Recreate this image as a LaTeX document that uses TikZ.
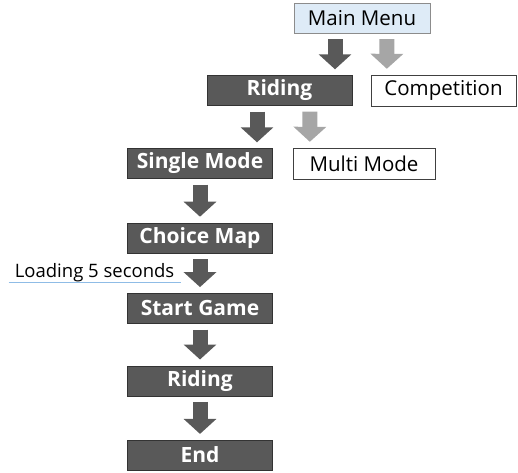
\documentclass[tikz,border=0pt]{standalone}
\usepackage{fontspec}
\setmainfont{Open Sans}
\usetikzlibrary{arrows.meta,positioning}
\definecolor{boxgray}{HTML}{595959}
\definecolor{arrowgray}{HTML}{A6A6A6}
\definecolor{menublue}{HTML}{DEEBF7}
\definecolor{lineblue}{HTML}{8FBCE6}

\tikzset{
  darkbox/.style={draw=black!80,fill=boxgray,text=white,font=\fontsize{21}{24}\selectfont\bfseries,
    minimum width=145pt,minimum height=30pt,inner sep=0pt},
  lightbox/.style={draw=black!75,fill=white,font=\fontsize{20.5}{24}\selectfont,
    minimum width=145pt,minimum height=31pt,inner sep=0pt},
  menubox/.style={lightbox,draw=black!45,fill=menublue,minimum width=136pt,minimum height=30pt},
  loadtxt/.style={font=\fontsize{18.5}{22}\selectfont,inner xsep=6pt,inner ysep=2pt},
  darr/.style={line width=15pt,boxgray,-{Triangle[length=15pt,width=32pt]},shorten <=6pt,shorten >=6pt},
  larr/.style={darr,arrowgray}
}

\begin{document}
\begin{tikzpicture}[x=1pt,y=1pt]
\useasboundingbox (0,0) rectangle (518,-472);
% menu level
\node[menubox] (mm) at (362,-18) {Main Menu};
\node[darkbox] (ride1) at (279.5,-90.5) {Riding};
\node[lightbox] (comp) at (443.5,-90.5) {Competition};
\draw[darr] ([xshift=-27pt]mm.south) -- ([xshift=55.5pt]ride1.north);
\draw[larr] ([xshift=25pt]mm.south) -- ([xshift=16pt]comp.north west);
% mode level
\node[darkbox] (single) at (200,-163.5) {Single Mode};
\node[lightbox,minimum width=142pt] (multi) at (364,-163.5) {Multi Mode};
\draw[darr] ([xshift=-22.5pt]ride1.south) -- ([xshift=57pt]single.north);
\draw[larr] ([xshift=30.5pt]ride1.south) -- ([xshift=17pt]multi.north west);
% single mode flow
\node[darkbox,below=44pt of single] (choice) {Choice Map};
\node[darkbox,below=40pt of choice] (start) {Start Game};
\node[darkbox,below=42pt of start] (ride2) {Riding};
\node[darkbox,below=44pt of ride2] (end) {End};
\foreach \a/\b in {single/choice,choice/start,start/ride2,ride2/end}
  \draw[darr] (\a) -- (\b);
\node[loadtxt,anchor=base east] (load) at ([xshift=-19.5pt,yshift=-24pt]choice.south) {Loading 5 seconds};
\draw[lineblue,thin] ([yshift=-5pt]load.base west) -- ([yshift=-5pt]load.base east);
\end{tikzpicture}
\end{document}
